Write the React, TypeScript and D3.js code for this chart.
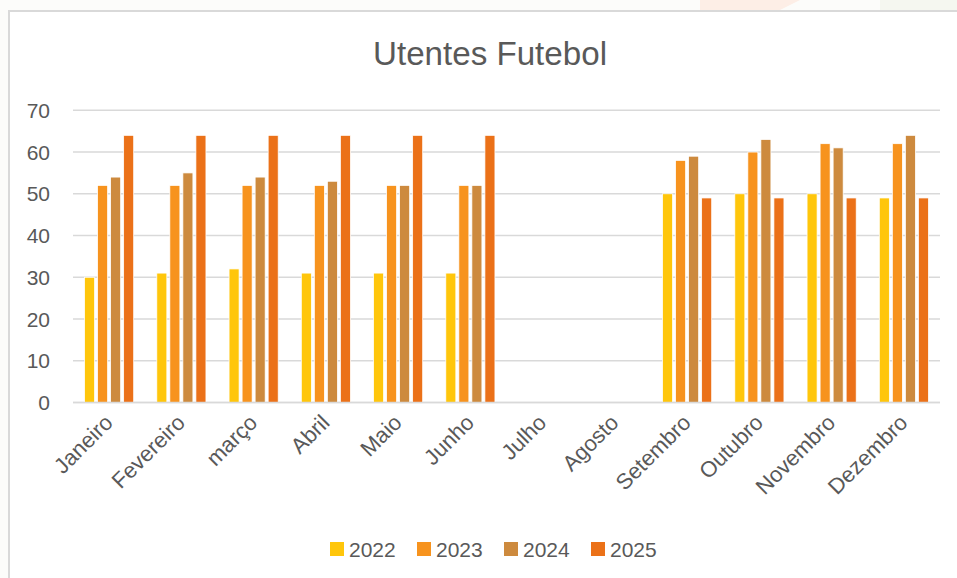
import React from "react";
import * as d3 from "d3";

const months = ["Janeiro","Fevereiro","março","Abril","Maio","Junho","Julho","Agosto","Setembro","Outubro","Novembro","Dezembro"];
const years = ["2022","2023","2024","2025"];
const s2022 = [30,31,32,31,31,31,null,null,50,50,50,49];
const s2023 = [52,52,52,52,52,52,null,null,58,60,62,62];
const s2024 = [54,55,54,53,52,52,null,null,59,63,61,64];
const s2025 = [64,64,64,64,64,64,null,null,49,49,49,49];
const yTicks = [0,10,20,30,40,50,60,70];
const colors = ["#FFC60B","#F7931E","#CD8A3E","#EB7118"];

export default function App() {
  const W = 957, H = 578;
  const left = 73, right = 940, top = 110.3, bottom = 402.5;
  const series = [s2022, s2023, s2024, s2025];
  const x0 = d3.scaleBand<string>().domain(months).range([left, right]).paddingInner(0.32).paddingOuter(0.16);
  const x1 = d3.scaleBand<string>().domain(years).range([0, x0.bandwidth()]).paddingInner(0.23).paddingOuter(0);
  const y = d3.scaleLinear().domain([0, 70]).range([bottom, top]);
  const font = "'Liberation Sans', Arial, sans-serif";
  const gray = "#595959";
  const legendX = d3.scaleOrdinal<string, number>().domain(years).range([330, 417, 504, 591]);

  return (
    <svg width={W} height={H} style={{ position: "absolute", left: 0, top: 0, display: "block" }}>
      <rect x={0} y={0} width={W} height={H} fill="#fcfcfa" />
      <path d="M700,0 L800,0 L780,10 L700,10 Z" fill="#fdeee6" />
      <path d="M880,0 L957,0 L957,10 L880,10 Z" fill="#f5f7f0" />
      <rect x={9} y={11} width={W} height={H} fill="#ffffff" stroke="#d9d9d9" strokeWidth={2} />
      <text x={490} y={65} textAnchor="middle" fontFamily={font} fontSize={33} textLength={234} lengthAdjust="spacingAndGlyphs" fill={gray}>Utentes Futebol</text>
      {yTicks.map(t => (
        <g key={t}>
          <line x1={left} x2={right} y1={y(t)} y2={y(t)} stroke="#d9d9d9" strokeWidth={1.5} />
          <text x={50} y={y(t) + 7.5} textAnchor="end" fontFamily={font} fontSize={21} fill={gray}>{t}</text>
        </g>
      ))}
      {series.map((s, si) => (
        <g key={years[si]}>
          {s.map((v, mi) => v == null ? null : (
            <rect key={mi}
              x={(x0(months[mi]) as number) + (x1(years[si]) as number)}
              y={y(v)} width={x1.bandwidth()} height={y(0) - y(v)}
              fill={colors[si]} stroke="#ffffff" strokeWidth={0.75} />
          ))}
        </g>
      ))}
      <line x1={left} x2={right} y1={y(0)} y2={y(0)} stroke="#d9d9d9" strokeWidth={1.5} />
      {months.map(m => {
        const cx = (x0(m) as number) + x0.bandwidth() / 2 + 5;
        const cy = 424;
        return (
          <text key={m} transform={`translate(${cx},${cy}) rotate(-45)`} textAnchor="end"
            fontFamily={font} fontSize={22} fill={gray}>{m}</text>
        );
      })}
      {years.map((yr, i) => (
        <g key={yr}>
          <rect x={legendX(yr)} y={542} width={14} height={14} fill={colors[i]} />
          <text x={legendX(yr) + 19} y={557} fontFamily={font} fontSize={21} fill={gray}>{yr}</text>
        </g>
      ))}
    </svg>
  );
}
